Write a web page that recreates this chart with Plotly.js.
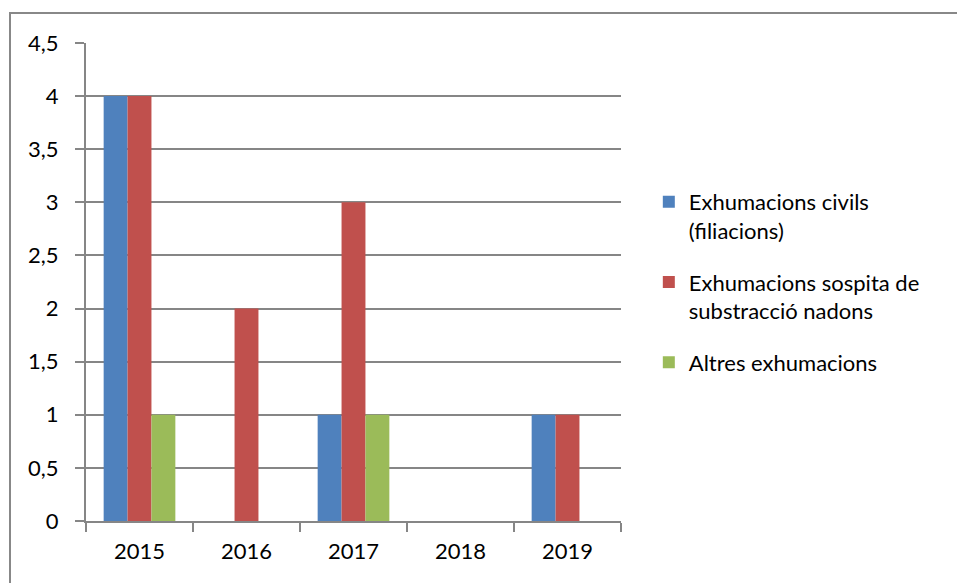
<!DOCTYPE html>
<html>
<head>
<meta charset="utf-8">
<script src="https://cdn.plot.ly/plotly-3.0.1.min.js"></script>
<style>
  html, body { margin: 0; padding: 0; background: #fff; overflow: hidden; }
  #frame { position: absolute; left: 9px; top: 12px; width: 960px; height: 600px; border: 2px solid #888; box-sizing: border-box; pointer-events: none; }
  #chart { position: absolute; left: 0; top: 0; width: 957px; height: 583px; }
  #chart text { font-variant-ligatures: none; }
</style>
</head>
<body>
<div id="chart"></div>
<div id="frame"></div>
<script>
const years = ["2015", "2016", "2017", "2018", "2019"];
const civils = [4, 0, 1, 0, 1];
const sospita = [4, 2, 3, 0, 1];
const altres = [1, 0, 1, 0, 0];
const seriesNames = ["Exhumacions civils<br>(filiacions)", "Exhumacions sospita de<br>substracció nadons", "Altres exhumacions"];
const colors = ["#4F81BD", "#C0504D", "#9BBB59"];
const yTicks = [0, 0.5, 1, 1.5, 2, 2.5, 3, 3.5, 4, 4.5];

const font = "Lato, 'Open Sans', sans-serif";
const fs = 22;
const traces = [civils, sospita, altres].map((vals, i) => ({
  type: "bar",
  x: years,
  y: vals,
  name: seriesNames[i],
  legendgroup: "g" + i,
  marker: { color: colors[i], line: { width: 0 } },
  hoverinfo: "skip"
}));

const layout = {
  width: 957, height: 583,
  margin: { l: 86, r: 336, t: 43, b: 62 },
  paper_bgcolor: "#fff", plot_bgcolor: "#fff",
  separators: ",.",
  barmode: "group",
  bargap: 0.33,
  bargroupgap: 0,
  font: { family: font, size: fs, color: "#000" },
  xaxis: {
    type: "category",
    showgrid: false,
    showline: true, linecolor: "#868686", linewidth: 2,
    ticks: "outside", tickson: "boundaries", ticklen: 9, tickcolor: "#868686", tickwidth: 2,
    ticklabelstandoff: 10,
    tickfont: { family: font, size: fs, color: "#000" },
    zeroline: false, fixedrange: true
  },
  yaxis: {
    range: [0, 4.5],
    tickvals: yTicks,
    showgrid: true, gridcolor: "#868686", gridwidth: 2,
    showline: true, linecolor: "#868686", linewidth: 2,
    ticks: "outside", ticklen: 9, tickcolor: "#868686", tickwidth: 2,
    ticklabelstandoff: 12,
    tickfont: { family: font, size: fs, color: "#000" },
    zeroline: false, fixedrange: true
  },
  legend: {
    x: 1.052, xanchor: "left", y: 0.5, yanchor: "middle",
    font: { family: font, size: fs, color: "#000" },
    traceorder: "grouped",
    tracegroupgap: 20,
    valign: "top",
    itemwidth: 30,
    bgcolor: "rgba(0,0,0,0)"
  },
  showlegend: true
};

Plotly.newPlot("chart", traces, layout, { displayModeBar: false, staticPlot: true });
</script>
</body>
</html>
